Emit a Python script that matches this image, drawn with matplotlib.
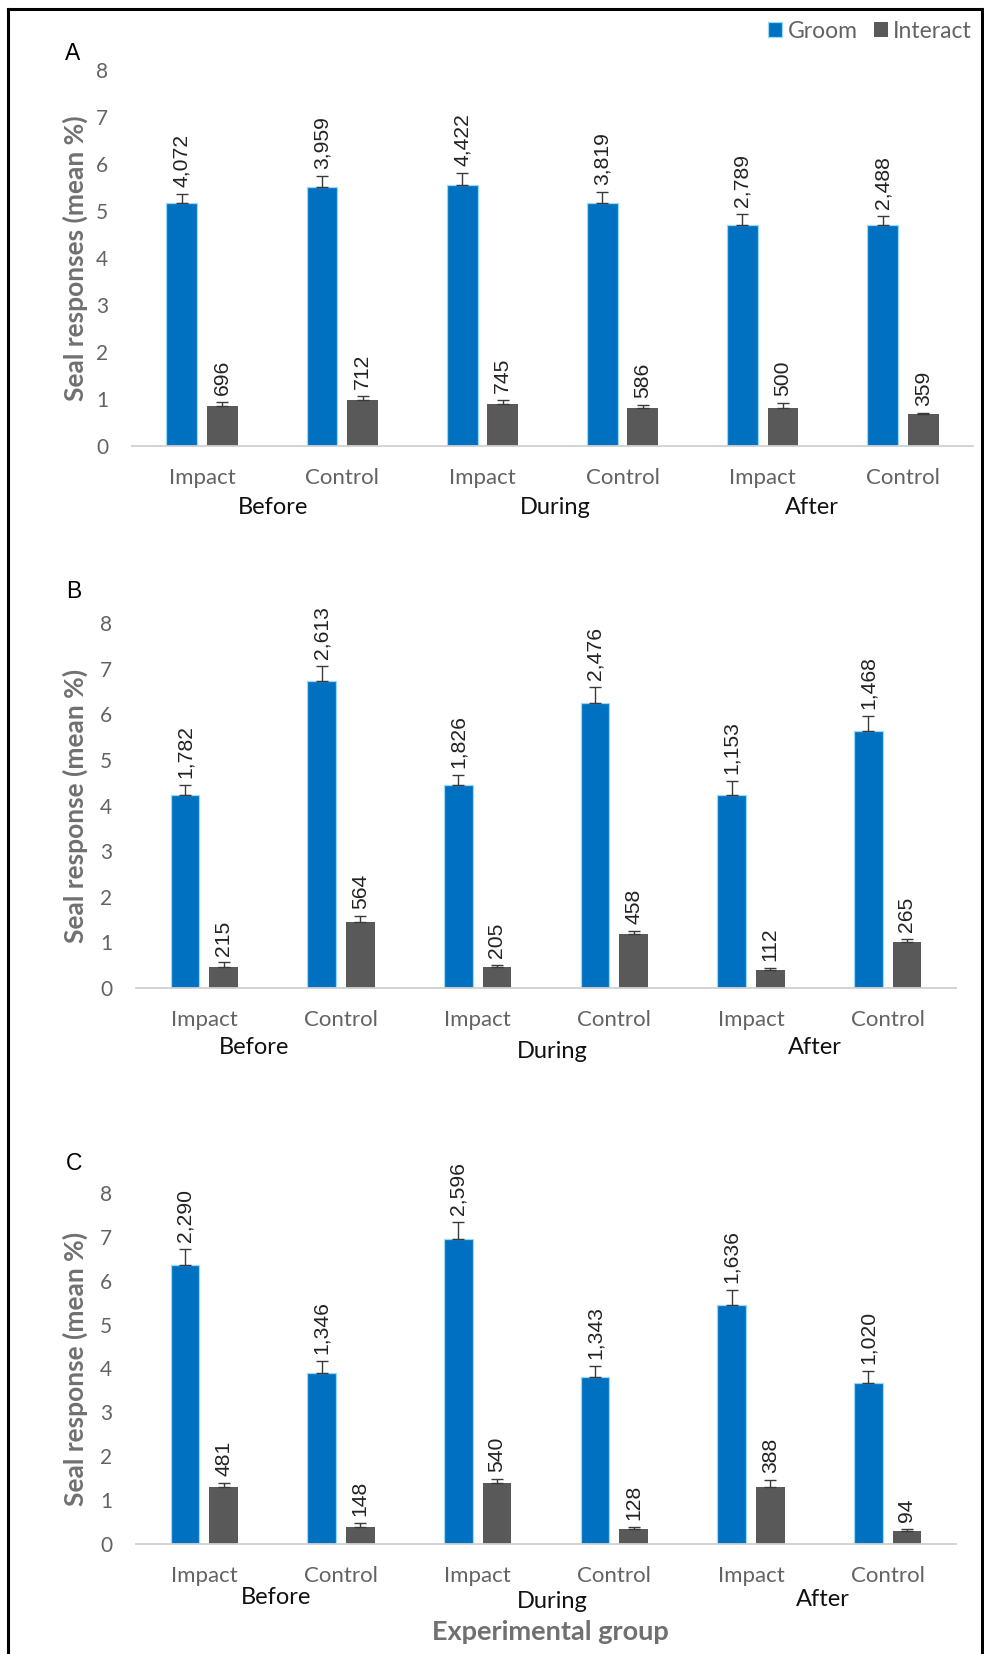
import matplotlib
matplotlib.use("Agg")
import matplotlib.pyplot as plt
from matplotlib.lines import Line2D
import numpy as np

# ---------------- data ----------------
treatments = ["Impact", "Control", "Impact", "Control", "Impact", "Control"]
periods = ["Before", "During", "After"]
series = ["Groom", "Interact"]

# Panel A
groom_a = [5.17, 5.51, 5.55, 5.17, 4.70, 4.70]
groom_a_err = [0.20, 0.23, 0.25, 0.24, 0.23, 0.20]
interact_a = [0.85, 0.97, 0.90, 0.81, 0.81, 0.68]
interact_a_err = [0.08, 0.085, 0.08, 0.07, 0.10, 0.03]
groom_a_n = [4072, 3959, 4422, 3819, 2789, 2488]
interact_a_n = [696, 712, 745, 586, 500, 359]

# Panel B
groom_b = [4.23, 6.73, 4.46, 6.25, 4.23, 5.63]
groom_b_err = [0.23, 0.32, 0.21, 0.34, 0.30, 0.34]
interact_b = [0.47, 1.45, 0.47, 1.18, 0.39, 1.00]
interact_b_err = [0.09, 0.12, 0.04, 0.08, 0.04, 0.07]
groom_b_n = [1782, 2613, 1826, 2476, 1153, 1468]
interact_b_n = [215, 564, 205, 458, 112, 265]

# Panel C
groom_c = [6.35, 3.90, 6.95, 3.81, 5.44, 3.67]
groom_c_err = [0.37, 0.27, 0.40, 0.24, 0.36, 0.28]
interact_c = [1.30, 0.39, 1.39, 0.34, 1.30, 0.30]
interact_c_err = [0.09, 0.09, 0.09, 0.04, 0.15, 0.04]
groom_c_n = [2290, 1346, 2596, 1343, 1636, 1020]
interact_c_n = [481, 148, 540, 128, 388, 94]

yticks = [0, 1, 2, 3, 4, 5, 6, 7, 8]

# ---------------- styling ----------------
W, H = 984, 1654
DPI = 100
BLUE = "#0070C0"
GREY = "#595959"
TXT = "#636363"
LABEL_FONT = ["Liberation Sans", "DejaVu Sans"]
plt.rcParams["font.family"] = ["Lato", "DejaVu Sans"]

fig = plt.figure(figsize=(W / DPI, H / DPI), dpi=DPI)
fig.patch.set_facecolor("white")


def fx(x):
    return x / W


def fy(y):
    return 1 - y / H


def value_labels(ax, xs, vals, errs, counts):
    for xi, v, e, n in zip(xs, vals, errs, counts):
        ax.annotate(f"{n:,}", (xi, v + e), xytext=(0, 5),
                    textcoords="offset points", rotation=90, ha="center",
                    va="bottom", fontsize=15.2, color="#222222",
                    family=LABEL_FONT)


def panel(box, groom, groom_err, inter, inter_err, groom_n, inter_n,
          ylabel, letter, letter_xy, period_xy, bw=0.22, off=0.145):
    x0, x1, ytop, ybot = box
    ax = fig.add_axes([fx(x0), fy(ybot), fx(x1) - fx(x0), (ybot - ytop) / H])
    x = np.arange(len(treatments))
    z = np.zeros(len(x))
    b1 = ax.bar(x - off, groom, bw, color=BLUE, edgecolor="#9ad9f5",
                linewidth=0.9, zorder=2, label=series[0])
    b2 = ax.bar(x + off, inter, bw, color=GREY, edgecolor="none",
                zorder=2, label=series[1])
    for xs, vals, errs in [(x - off, groom, groom_err),
                           (x + off, inter, inter_err)]:
        ax.errorbar(xs, vals, yerr=[z, errs], fmt="none", ecolor="#3a3a3a",
                    elinewidth=1.0, capsize=4, capthick=1.0, zorder=3)
    value_labels(ax, x - off, groom, groom_err, groom_n)
    value_labels(ax, x + off, inter, inter_err, inter_n)

    ax.set_xlim(-0.5, len(x) - 0.5)
    ax.set_ylim(0, 8)
    ax.set_yticks(yticks)
    ax.set_yticklabels([str(t) for t in yticks])
    ax.set_xticks(x)
    ax.set_xticklabels(treatments)
    ax.tick_params(axis="y", length=0, pad=17, labelsize=15, labelcolor=TXT)
    ax.tick_params(axis="x", length=0, pad=16, labelsize=16, labelcolor=TXT)
    for s in ["top", "right", "left"]:
        ax.spines[s].set_visible(False)
    ax.spines["bottom"].set_color("#d0d0d0")
    ax.spines["bottom"].set_linewidth(1.3)
    ax.patch.set_alpha(0)

    fig.text(fx(75), fy((ytop + ybot) / 2), ylabel, rotation=90,
             ha="center", va="center", fontsize=19, fontweight="bold",
             color="#707070")
    fig.text(fx(letter_xy[0]), fy(letter_xy[1]), letter, ha="center",
             va="center", fontsize=16.5, color="black", family=LABEL_FONT)
    for name, (px, py) in zip(periods, period_xy):
        fig.text(fx(px), fy(py), name, ha="center", va="center",
                 fontsize=17, color="#111111")
    return ax, b1, b2


axA, g1, g2 = panel((132, 973, 70, 446), groom_a, groom_a_err, interact_a,
                    interact_a_err, groom_a_n, interact_a_n,
                    "Seal responses (mean %)", "A", (73, 53),
                    [(273, 507), (555, 507), (812, 507)])
panel((136, 956, 623, 988), groom_b, groom_b_err, interact_b,
      interact_b_err, groom_b_n, interact_b_n,
      "Seal response (mean %)", "B", (74, 592),
      [(254, 1047), (552, 1052), (815, 1047)], bw=0.21, off=0.141)
panel((136, 956, 1193, 1544), groom_c, groom_c_err, interact_c,
      interact_c_err, groom_c_n, interact_c_n,
      "Seal response (mean %)", "C", (74, 1164),
      [(276, 1598), (552, 1602), (823, 1600)], bw=0.21, off=0.141)

fig.text(fx(550), fy(1632), "Experimental group", ha="center", va="center",
         fontsize=19.5, fontweight="bold", color="#707070")

fig.legend(handles=[g1, g2], labels=series, loc="center right",
           bbox_to_anchor=(fx(972), fy(31)), ncol=2, frameon=False,
           handlelength=0.6, handleheight=0.6, handletextpad=0.25,
           columnspacing=0.7, fontsize=16.5, labelcolor=TXT,
           borderaxespad=0, borderpad=0)

# outer frame (top, left, right)
for xs, ys in [([7.5, 982], [8.5, 8.5]), ([7.5, 7.5], [8.5, H]),
               ([982, 982], [8.5, H])]:
    fig.add_artist(Line2D([fx(v) for v in xs], [fy(v) for v in ys],
                          color="black", linewidth=2.2))

fig.savefig("out.png", dpi=DPI, facecolor="white")
